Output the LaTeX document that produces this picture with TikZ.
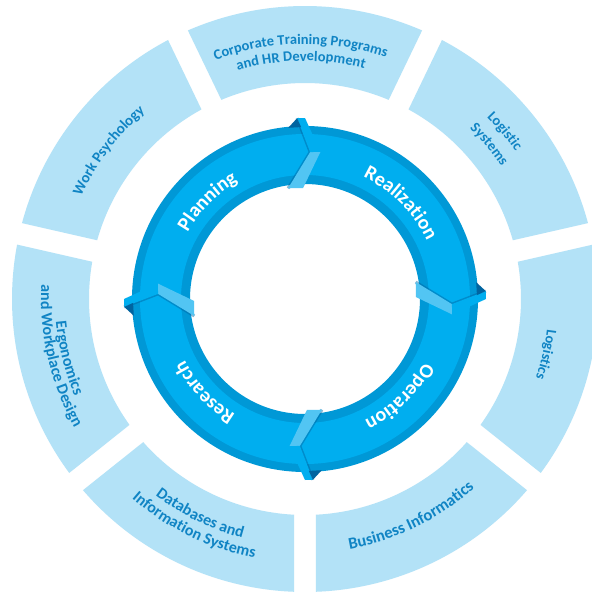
\documentclass[tikz,border=0pt]{standalone}
\usepackage{fontspec}
\setmainfont{Carlito}
\usetikzlibrary{decorations.text}

\definecolor{segfill}{RGB}{179,226,247}
\definecolor{labelblue}{RGB}{16,132,196}
\definecolor{ringblue}{RGB}{0,174,239}
\definecolor{bandblue}{RGB}{0,152,214}
\definecolor{foldblue}{RGB}{82,197,243}
\definecolor{darkfold}{RGB}{0,100,160}

\begin{document}
\begin{tikzpicture}
	[x=1pt,y=1pt,
	segment/.style={fill=segfill},
	segtext/.style 2 args={decorate,decoration={text along path,text align=center,
		text={|\fontsize{#1}{17}\selectfont\bfseries\color{labelblue}|#2}}},
	ringtext/.style={decorate,decoration={text along path,text align=center,
		text={|\fontsize{20}{24}\selectfont\bfseries\color{white}|#1}}}]

	\useasboundingbox (-305,-296) rectangle (287,299);
	\fill[white] (-305,-296) rectangle (287,299);
	\coordinate (hub) at (0,0);

	% outer ring of fields
	\foreach \segang in {90,38.57,-12.86,-64.29,-115.71,-167.14,141.43}
		\fill[segment] (\segang+22.79:216) -- (\segang+23.56:293)
			arc[start angle=\segang+23.56,end angle=\segang-23.56,radius=293]
			-- (\segang-22.79:216)
			arc[start angle=\segang-22.79,end angle=\segang+22.79,radius=216] -- cycle;

	% cycle ring
	\fill[bandblue,even odd rule] (hub) circle[radius=173] (hub) circle[radius=115];
	\fill[ringblue,even odd rule] (hub) circle[radius=165] (hub) circle[radius=124];

	\foreach \a in {90,0,-90,180}{
		\draw[darkfold,line width=3pt,opacity=.45,line join=round]
			(\a+2.5:181) -- (\a-2:147) -- (\a+8.7:112);
		\fill[foldblue] (\a-2:147) -- (\a-6:148) -- (\a+1:111) -- (\a+8.7:112) -- cycle;
		\fill[ringblue] (\a+2.5:181) -- (\a:181) -- (\a-6:148) -- (\a-2:147) -- cycle;
		\fill[darkfold] (\a+2.5:181) -- (\a+1.3:172) -- (\a+5.6:172) -- cycle;
	}

	\path[ringtext=Planning] (185:135) arc[start angle=185,end angle=85,radius=135];
	\path[ringtext=Realization] (95:135) arc[start angle=95,end angle=-5,radius=135];
	\path[ringtext=Operation] (4:135) arc[start angle=4,end angle=-96,radius=135];
	\path[ringtext=Research] (273:135) arc[start angle=273,end angle=173,radius=135];

	\path[segtext={14.5}{Corporate Training Programs}] (131:255) arc[start angle=131,end angle=51,radius=255];
	\path[segtext={14.5}{and HR Development}] (131:238) arc[start angle=131,end angle=51,radius=238];
	\path[segtext={14.5}{Logistic}] (80:257) arc[start angle=80,end angle=0,radius=257];
	\path[segtext={14.5}{Systems}] (80:237) arc[start angle=80,end angle=0,radius=237];
	\path[segtext={14.5}{Logistics}] (27:244) arc[start angle=27,end angle=-53,radius=244];
	\path[segtext={15}{Work Psychology}] (183:246) arc[start angle=183,end angle=103,radius=246];
	\path[segtext={16.5}{Business Informatics}] (-104:254) arc[start angle=-104,end angle=-24,radius=254];
	\path[segtext={16}{Databases and}] (-156:247) arc[start angle=-156,end angle=-76,radius=247];
	\path[segtext={16}{Information Systems}] (-156:264) arc[start angle=-156,end angle=-76,radius=264];
	\path[segtext={16}{Ergonomics}] (154:250) arc[start angle=154,end angle=234,radius=250];
	\path[segtext={16}{and Workplace Design}] (153:264) arc[start angle=153,end angle=233,radius=264];
\end{tikzpicture}
\end{document}
